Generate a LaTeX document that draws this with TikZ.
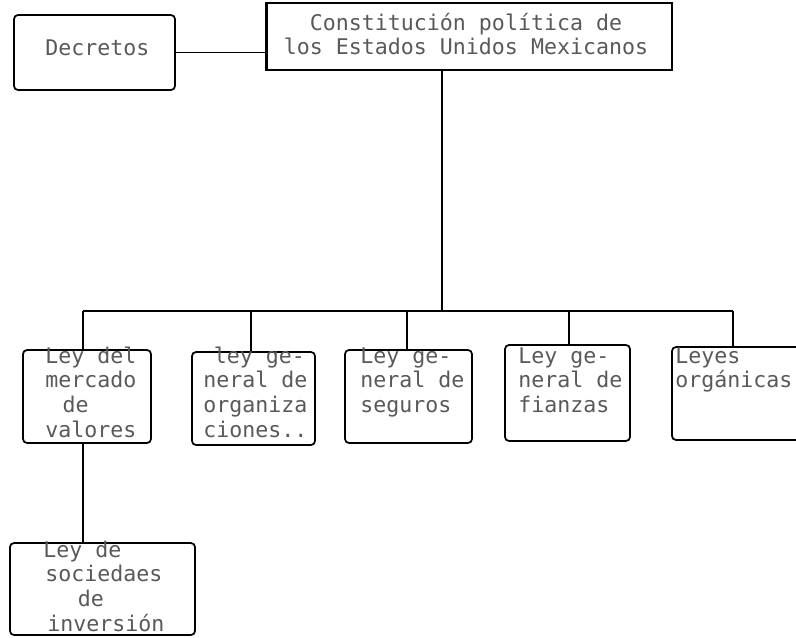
\documentclass[tikz,border=0pt]{standalone}
\usepackage{fontspec}
\setmonofont{DejaVu Sans Mono}
\usetikzlibrary{fit}
% printer-style monospaced lettering
\newcommand{\dmfont}{\ttfamily\fontsize{16.2}{18.6}\selectfont}
\newcommand{\lines}[2][l]{\begin{tabular}[t]{@{}#1@{}}#2\end{tabular}}
\begin{document}
\begin{tikzpicture}[x=0.75pt,y=-0.75pt,
  box/.style={draw, line width=1.3pt, rounded corners=3pt, inner sep=0pt},
  sqbox/.style={draw, line width=1.1pt, inner sep=0pt},
  txt/.style={inner sep=0pt, anchor=base west, font=\dmfont, text=black!65},
  wire/.style={line width=1.3pt}]
\useasboundingbox (0,0) rectangle (796,637);
\clip (0,0) rectangle (796,637);

% frames
\node[box, fit={(14,15)(175,90)}] (dec) {};
\node[sqbox, fit={(267,3)(672,70)}] (con) {};
\draw[line width=2.6pt] (con.north west) -- (con.south west);
\node[box, fit={(23,350)(151,443)}] (b1) {};
\node[box, fit={(192,352)(315,445)}] (b2) {};
\node[box, fit={(345,350)(472,443)}] (b3) {};
\node[box, fit={(505,345)(630,441)}] (b4) {};
\node[box, fit={(672,347)(812,440)}] (b5) {};
\node[box, fit={(10,543)(195,635)}] (b6) {};

% labels
\node[txt] (tdec) at (45,55) {Decretos};
\node[txt, anchor=base] (tcon) at (466,30) {\lines[c]{Constitución política de\\los Estados Unidos Mexicanos}};
\node[txt] (t1) at (45,363) {\lines{Ley del\\mercado\\\hspace*{13pt}de\\valores}};
\node[txt] (t2) at (203,363) {\lines{\hspace*{8pt}ley ge-\\neral de\\organiza\\ciones..}};
\node[txt] (t3) at (360,363) {\lines{Ley ge-\\neral de\\seguros}};
\node[txt] (t4) at (518,363) {\lines{Ley ge-\\neral de\\fianzas}};
\node[txt] (t5) at (675,363) {\lines{Leyes\\orgánicas}};
\node[txt] (t6) at (43,557) {\lines{Ley de\\\hspace*{1.5pt}sociedaes\\\hspace*{26pt}de\\\hspace*{3pt}inversión}};

% branch points on the distribution bar
\coordinate (trunk) at (442,311);
\coordinate (d1) at (83,311);
\coordinate (d2) at (251,311);
\coordinate (d3) at (407,311);
\coordinate (d4) at (569,311);
\coordinate (d5) at (733,311);

% connectors
\draw[wire] (dec.east) -- (dec.east -| con.west);
\draw[wire] (trunk |- con.south) -- (trunk);
\draw[wire] (d1) -- (d5);
\draw[wire] (d1) -- (d1 |- b1.north);
\draw[wire] (d2) -- (d2 |- b2.north);
\draw[wire] (d3) -- (d3 |- b3.north);
\draw[wire] (d4) -- (d4 |- b4.north);
\draw[wire] (d5) -- (d5 |- b5.north);
\draw[wire] (d1 |- b1.south) -- (d1 |- b6.north);
\end{tikzpicture}
\end{document}
